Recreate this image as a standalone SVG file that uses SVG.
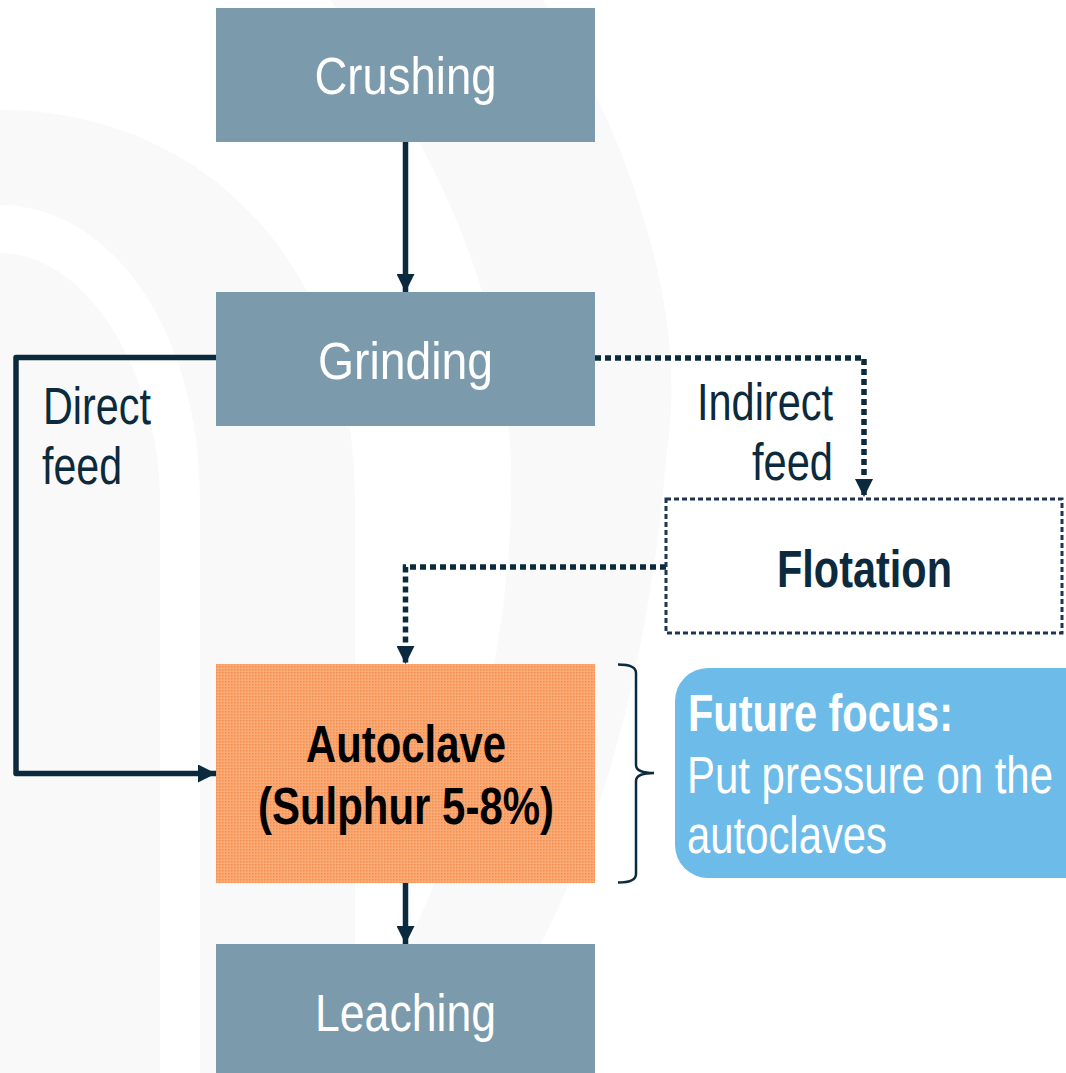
<svg xmlns="http://www.w3.org/2000/svg" width="1066" height="1073" viewBox="0 0 1066 1073">
  <defs>
    <style>
      .box { fill: #7b9aab; }
      .lbl { font-family: "Liberation Sans Narrow", "Liberation Sans", Arial, sans-serif; font-size: 51px; }
      .white { fill: #ffffff; }
      .navy { fill: #0c2a3d; }
      .bold { font-weight: bold; }
      .conn { fill: none; stroke: #0c2a3d; stroke-width: 5.5; }
      .dot { stroke-dasharray: 6 4; }
      .bg { fill: #f9f9f9; }
    </style>
    <marker id="arr" viewBox="0 0 18 18" refX="18" refY="9" markerWidth="18" markerHeight="18" markerUnits="userSpaceOnUse" orient="auto">
      <path d="M0,0 L18,9 L0,18 Z" fill="#0c2a3d"/>
    </marker>
    <pattern id="orangeDots" width="3" height="3" patternUnits="userSpaceOnUse">
      <rect width="3" height="3" fill="#fbaa76"/>
      <rect width="1.5" height="1.5" fill="#f28d4c"/>
    </pattern>
  </defs>

  <rect width="1066" height="1073" fill="#ffffff"/>

  <g id="background">
    <path class="bg" d="M0,110 C200,110 355,260 355,500 L355,1073 L200,1073 L200,500 C200,330 110,205 0,205 Z"/>
    <path class="bg" d="M0,253 C90,253 160,380 160,500 L160,1073 L0,1073 Z"/>
    <path class="bg" d="M543,0 C620,120 690,300 667,450 C655,600 620,800 533,958 L470,1073 L340,1073 L400,958 C470,830 520,600 510,445 C500,300 450,170 330,0 Z"/>
  </g>

  <g id="connectors">
    <path class="conn" d="M405.5,142 L405.5,292" marker-end="url(#arr)"/>
    <path class="conn" d="M216,357.5 L16,357.5 L16,773.5 L216,773.5" marker-end="url(#arr)" stroke-linejoin="round"/>
    <path class="conn dot" d="M595,358 L864,358 L864,497" marker-end="url(#arr)"/>
    <path class="conn dot" d="M666,567 L405.5,567 L405.5,664" marker-end="url(#arr)"/>
    <path class="conn" d="M405.5,883 L405.5,944" marker-end="url(#arr)"/>
  </g>

  <g id="crushing">
    <rect class="box" x="216" y="8" width="379" height="134"/>
    <text class="lbl white" x="405.5" y="94" text-anchor="middle" textLength="182" lengthAdjust="spacingAndGlyphs">Crushing</text>
  </g>

  <g id="grinding">
    <rect class="box" x="216" y="292" width="379" height="134"/>
    <text class="lbl white" x="405.5" y="379" text-anchor="middle" textLength="175" lengthAdjust="spacingAndGlyphs">Grinding</text>
  </g>

  <g id="direct-feed-label">
    <text class="lbl navy" x="43" y="424" textLength="108" lengthAdjust="spacingAndGlyphs">Direct</text>
    <text class="lbl navy" x="42" y="484" textLength="80" lengthAdjust="spacingAndGlyphs">feed</text>
  </g>

  <g id="indirect-feed-label">
    <text class="lbl navy" x="697" y="420" textLength="136" lengthAdjust="spacingAndGlyphs">Indirect</text>
    <text class="lbl navy" x="752" y="480" textLength="81" lengthAdjust="spacingAndGlyphs">feed</text>
  </g>

  <g id="flotation">
    <rect x="666" y="499" width="396" height="134" fill="#ffffff" stroke="#1d3452" stroke-width="3" stroke-dasharray="5 3"/>
    <text class="lbl navy bold" x="777" y="587" textLength="175" lengthAdjust="spacingAndGlyphs">Flotation</text>
  </g>

  <g id="autoclave">
    <rect x="216" y="664" width="379" height="219" fill="url(#orangeDots)"/>
    <text class="lbl bold" fill="#000000" x="306" y="762" textLength="200" lengthAdjust="spacingAndGlyphs">Autoclave</text>
    <text class="lbl bold" fill="#000000" x="258" y="824" textLength="296" lengthAdjust="spacingAndGlyphs">(Sulphur 5-8%)</text>
  </g>

  <g id="brace">
    <path d="M618,664.5 Q636,664.5 636,673 L636,765 Q636,773 654,773 Q636,773 636,781 L636,874 Q636,882.5 618,882.5" fill="none" stroke="#0c2a3d" stroke-width="2.5"/>
  </g>

  <g id="future-focus">
    <rect x="675" y="668" width="430" height="210" rx="33" ry="33" fill="#6dbbe9"/>
    <text class="lbl white bold" x="688" y="731" textLength="265" lengthAdjust="spacingAndGlyphs">Future focus:</text>
    <text class="lbl white" x="687" y="793" textLength="366" lengthAdjust="spacingAndGlyphs">Put pressure on the</text>
    <text class="lbl white" x="687" y="853" textLength="200" lengthAdjust="spacingAndGlyphs">autoclaves</text>
  </g>

  <g id="leaching">
    <rect class="box" x="216" y="944" width="379" height="129"/>
    <text class="lbl white" x="405.5" y="1031" text-anchor="middle" textLength="181" lengthAdjust="spacingAndGlyphs">Leaching</text>
  </g>
</svg>
